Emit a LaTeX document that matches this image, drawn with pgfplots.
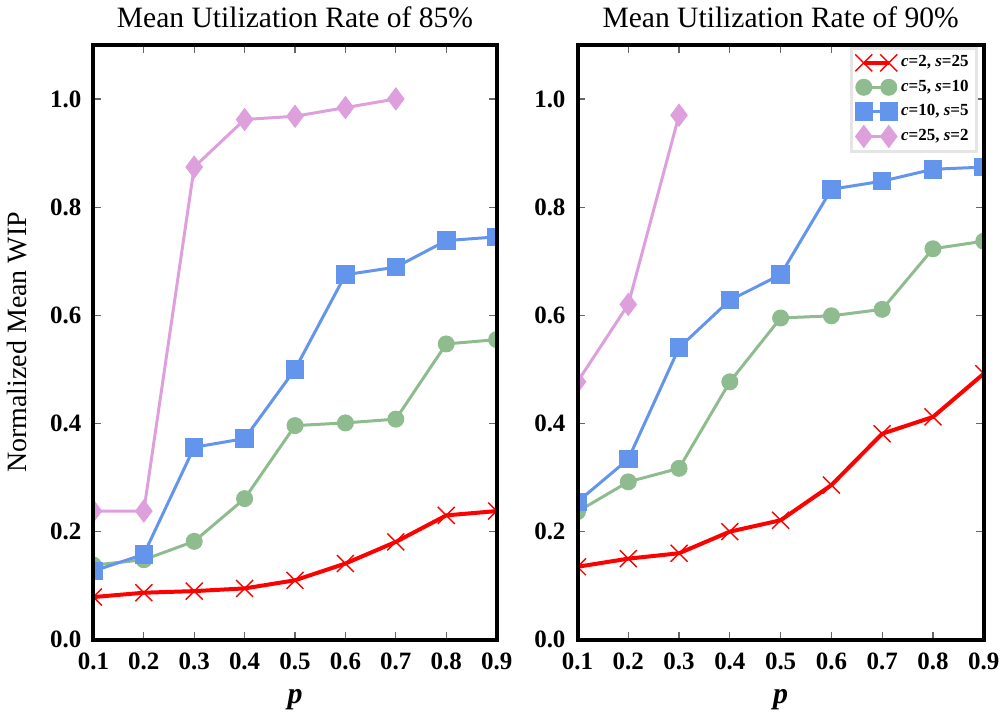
\documentclass[border=0pt]{standalone}
\usepackage{pgfplots}
\pgfplotsset{compat=1.18}
\usepackage{fontspec}
\setmainfont{Liberation Serif}

\definecolor{cred}{HTML}{FF0000}
\definecolor{cgreen}{HTML}{8FBC8F}
\definecolor{cblue}{HTML}{6495ED}
\definecolor{cpink}{HTML}{DDA0DD}

\pgfplotsset{
  wipaxis/.style={
    scale only axis,
    height=298pt,
    xmin=0.1, xmax=0.9, ymin=0, ymax=1.1,
    xtick={0.1,0.2,0.3,0.4,0.5,0.6,0.7,0.8,0.9},
    ytick={0,0.2,0.4,0.6,0.8,1.0},
    minor tick num=0,
    axis on top,
    clip marker paths=true,
    axis line style={line width=2pt, black},
    tick style={black!60, line width=0.6pt},
    major tick length=4pt,
    /pgf/number format/assume math mode=true,
    ticklabel style={font=\fontsize{12.5}{14}\selectfont\bfseries},
    xticklabel style={yshift=-3pt},
    yticklabel style={xshift=-2.5pt},
    xticklabel={\pgfmathprintnumber[fixed,fixed zerofill,precision=1]{\tick}},
    yticklabel={\pgfmathprintnumber[fixed,fixed zerofill,precision=1]{\tick}},
    xlabel={\textbf{\textit{p}}},
    xlabel style={font=\fontsize{15}{17}\selectfont, yshift=-3pt},
    title style={font=\fontsize{14.8}{18}\selectfont, yshift=-1pt},
    legend image code/.code={\draw[##1] plot coordinates {(0pt,0pt) (12.5pt,0pt)};},
  },
  redline/.style={color=cred, line width=2pt, mark=x, mark size=6pt,
    mark options={line width=0.7pt}},
  greenline/.style={color=cgreen, line width=1.5pt, mark=*, mark size=4pt,
    mark options={line width=0.5pt}},
  blueline/.style={color=cblue, line width=1.5pt, mark=square*, mark size=4.4pt,
    mark options={line width=0.5pt}},
  pinkline/.style={color=cpink, line width=1.5pt, mark=diamond*, mark size=5.5pt,
    mark options={line width=0.5pt}},
}

\begin{document}
\begin{tikzpicture}
% utilisation 85%
\begin{axis}[wipaxis, width=202pt,
    title={Mean Utilization Rate of 85\%},
    ylabel={Normalized Mean WIP},
    ylabel style={font=\fontsize{14}{16}\selectfont, yshift=5pt}]
  \addplot[redline] coordinates {(0.1,0.079) (0.2,0.087) (0.3,0.090) (0.4,0.095) (0.5,0.110) (0.6,0.141) (0.7,0.181) (0.8,0.230) (0.9,0.238)};
  \addplot[greenline] coordinates {(0.1,0.138) (0.2,0.148) (0.3,0.182) (0.4,0.261) (0.5,0.396) (0.6,0.401) (0.7,0.408) (0.8,0.547) (0.9,0.555)};
  \addplot[blueline] coordinates {(0.1,0.127) (0.2,0.158) (0.3,0.356) (0.4,0.372) (0.5,0.500) (0.6,0.675) (0.7,0.689) (0.8,0.738) (0.9,0.745)};
  \addplot[pinkline] coordinates {(0.1,0.238) (0.2,0.238) (0.3,0.874) (0.4,0.962) (0.5,0.968) (0.6,0.984) (0.7,1.000)};
\end{axis}
% utilisation 90%
\begin{axis}[wipaxis, width=203.5pt, at={(242.5pt,0pt)},
    title={Mean Utilization Rate of 90\%},
    legend cell align=left,
    legend style={at={(0.985,0.997)}, anchor=north east,
      draw=black!10, line width=1.5pt, fill=white,
      font=\fontsize{8.5}{10}\selectfont\bfseries,
      inner xsep=2pt, inner ysep=2pt,
      row sep=1.5pt, nodes={inner sep=1.8pt}}]
  \addplot[redline] coordinates {(0.1,0.135) (0.2,0.150) (0.3,0.160) (0.4,0.200) (0.5,0.221) (0.6,0.286) (0.7,0.381) (0.8,0.412) (0.9,0.492)};
  \addplot[greenline] coordinates {(0.1,0.237) (0.2,0.292) (0.3,0.317) (0.4,0.477) (0.5,0.595) (0.6,0.599) (0.7,0.611) (0.8,0.723) (0.9,0.737)};
  \addplot[blueline] coordinates {(0.1,0.255) (0.2,0.334) (0.3,0.540) (0.4,0.628) (0.5,0.675) (0.6,0.833) (0.7,0.848) (0.8,0.870) (0.9,0.874)};
  \addplot[pinkline] coordinates {(0.1,0.477) (0.2,0.620) (0.3,0.970)};
  \legend{{\textit{c}=2, \textit{s}=25}, {\textit{c}=5, \textit{s}=10}, {\textit{c}=10, \textit{s}=5}, {\textit{c}=25, \textit{s}=2}}
\end{axis}
\end{tikzpicture}
\end{document}
